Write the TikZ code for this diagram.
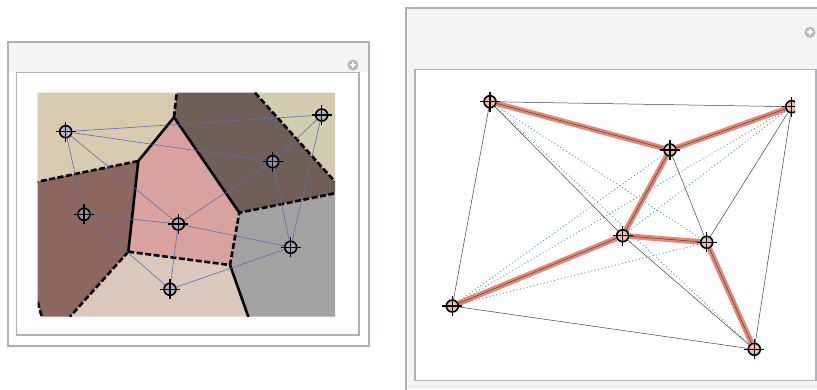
\documentclass[tikz,border=0pt]{standalone}
\usepackage{xcolor}
\usepackage{tikz}
\usetikzlibrary{backgrounds}

\definecolor{framegray}{HTML}{ADB2B5}
\definecolor{headgray}{HTML}{F2F4F5}
\definecolor{icongray}{HTML}{B4B8BB}
\definecolor{cellTL}{HTML}{D9CBB0}
\definecolor{cellTR}{HTML}{D0CDB0}
\definecolor{cellDark}{HTML}{705F58}
\definecolor{cellPink}{HTML}{D9A29E}
\definecolor{cellBrown}{HTML}{8D675D}
\definecolor{cellBot}{HTML}{DCC8BA}
\definecolor{cellGray}{HTML}{A4A1A2}
\definecolor{delblue}{HTML}{5670AE}
\definecolor{mstred}{HTML}{E2694F}
\definecolor{dotblue}{HTML}{4A93B5}

\begin{document}
\begin{tikzpicture}[x=1pt,y=-1pt,
  site/.style={circle,draw=black,line width=1.6pt,inner sep=0pt,minimum size=12pt,fill=#1,fill opacity=.65},
  ridge/.style={line width=2.6pt,black,line cap=round},
  dridge/.style={line width=2.6pt,black,dash pattern=on 6pt off 2.5pt},
  dedge/.style={draw=delblue,line width=0.6pt},
  hull/.style={draw=black!75,line width=0.5pt},
  mst/.style={draw=mstred,line width=5.5pt,opacity=.8},
  spare/.style={draw=dotblue,line width=0.9pt,dash pattern=on 0.9pt off 2.6pt},
  panel/.style={draw=framegray,line width=1.8pt},
  plusicon/.style={circle,fill=icongray,minimum size=11pt,inner sep=0pt}]
\useasboundingbox (0,0) rectangle (817,389);

% sites, left panel
\node[site=delblue!60] (a) at (65.7,131.7) {};
\node[site=delblue!60] (b) at (321.7,115) {};
\node[site=delblue!60] (c) at (272.7,161.7) {};
\node[site=delblue!60] (d) at (84,214.3) {};
\node[site=delblue!60] (e) at (178.3,224) {};
\node[site=delblue!60] (f) at (290.7,247.3) {};
\node[site=delblue!60] (g) at (170,289.3) {};

% sites, right panel (clipped at the plot edge)
\begin{scope}
\clip (415,70) rectangle (795,380);
\node[site=mstred!70] (p1) at (490,101.7) {};
\node[site=mstred!70] (p2) at (791.7,106.7) {};
\node[site=mstred!70] (p3) at (670,150) {};
\node[site=mstred!70] (p4) at (622.7,235.7) {};
\node[site=mstred!70] (p5) at (706.7,242.3) {};
\node[site=mstred!70] (p6) at (452.3,306) {};
\node[site=mstred!70] (p7) at (754.3,349.3) {};
\foreach \s in {p1,p2,p3,p4,p5,p6,p7}
  \draw[line width=1.5pt] ([xshift=-10pt]\s.center) -- ([xshift=10pt]\s.center)
    ([yshift=-10pt]\s.center) -- ([yshift=10pt]\s.center);
\end{scope}
\foreach \s in {a,b,c,d,e,f,g}
  \draw[line width=1.5pt] ([xshift=-10pt]\s.center) -- ([xshift=10pt]\s.center)
    ([yshift=-10pt]\s.center) -- ([yshift=10pt]\s.center);

\begin{scope}[on background layer]
% frames
\fill[white] (8,42) rectangle (369,346);
\fill[headgray] (9,43) rectangle (368,72);
\draw[panel] (8,42) rectangle (369,346);
\draw[panel,line width=1.2pt] (16.7,72.7) rectangle (359,335);
\node[plusicon] (plusL) at (353,65) {};
\draw[white,line width=1.8pt] ([xshift=-3pt]plusL.center) -- ([xshift=3pt]plusL.center)
  ([yshift=-3pt]plusL.center) -- ([yshift=3pt]plusL.center);

\fill[headgray] (406,8) rectangle (817,389);
\draw[panel] (830,8) -- (406,8) -- (406,400);
\fill[white] (415,69.3) rectangle (816,380.7);
\draw[panel,line width=1.2pt] (415,69.3) rectangle (816,380.7);
\node[plusicon] (plusR) at (810,32.3) {};
\draw[white,line width=1.8pt] ([xshift=-3pt]plusR.center) -- ([xshift=3pt]plusR.center)
  ([yshift=-3pt]plusR.center) -- ([yshift=3pt]plusR.center);

% voronoi cells
\coordinate (v1) at (174,117.3);
\coordinate (v2) at (138.3,161);
\coordinate (v3) at (128.3,251.7);
\coordinate (v4) at (230,265);
\coordinate (v5) at (239.3,212.7);
\fill[cellTL] (37.7,92.7) -- (176.7,92.7) -- (v1) -- (v2) -- (37.7,181.7) -- cycle;
\fill[cellDark] (176.7,92.7) -- (255,92.7) -- (335,181.7) -- (335,193.3) -- (v5) -- (v1) -- cycle;
\fill[cellTR] (255,92.7) -- (335,92.7) -- (335,181.7) -- cycle;
\fill[cellPink] (v1) -- (v5) -- (v4) -- (v3) -- (v2) -- cycle;
\fill[cellBrown] (37.7,181.7) -- (v2) -- (v3) -- (70,316.7) -- (41.7,316.7) -- (37.7,302) -- cycle;
\fill[cellBot] (v3) -- (v4) -- (248.3,316.7) -- (70,316.7) -- cycle;
\fill[cellGray] (v5) -- (335,193.3) -- (335,316.7) -- (248.3,316.7) -- (v4) -- cycle;

\begin{scope}
\clip (37.7,92.7) rectangle (335,316.7);
\draw[ridge] (v1) -- (v2) -- (v3);
\draw[ridge] (v1) -- (v5);
\draw[ridge] (v4) -- (248.3,316.7);
\draw[dridge] (v1) -- (176.7,92.7);
\draw[dridge] (v2) -- (37.7,181.7);
\draw[dridge] (v3) -- (v4) -- (v5) -- (335,193.3);
\draw[dridge] (v3) -- (70,316.7);
\draw[dridge] (255,92.7) -- (335,181.7);
\draw[dridge] (37.7,302) -- (41.7,316.7);
\end{scope}

% delaunay edges
\foreach \u/\w in {a/b,a/c,a/d,a/e,b/c,b/f,c/e,c/f,d/e,d/g,e/f,e/g,g/f}
  \draw[dedge] (\u) -- (\w);

% right panel: spare pairs, hull, tree
\foreach \u/\w in {p1/p5,p1/p7,p6/p3,p6/p2,p6/p5,p4/p2}
  \draw[spare] (\u) -- (\w);
\foreach \u/\w in {p1/p2,p2/p7,p7/p6,p6/p1,p1/p4,p4/p7,p3/p5,p5/p2}
  \draw[hull] (\u) -- (\w);
\foreach \u/\w in {p1/p3,p3/p2,p3/p4,p4/p5,p4/p6,p5/p7} {
  \draw[mst] (\u) -- (\w);
  \draw[hull] (\u) -- (\w);
}
\end{scope}
\end{tikzpicture}
\end{document}
